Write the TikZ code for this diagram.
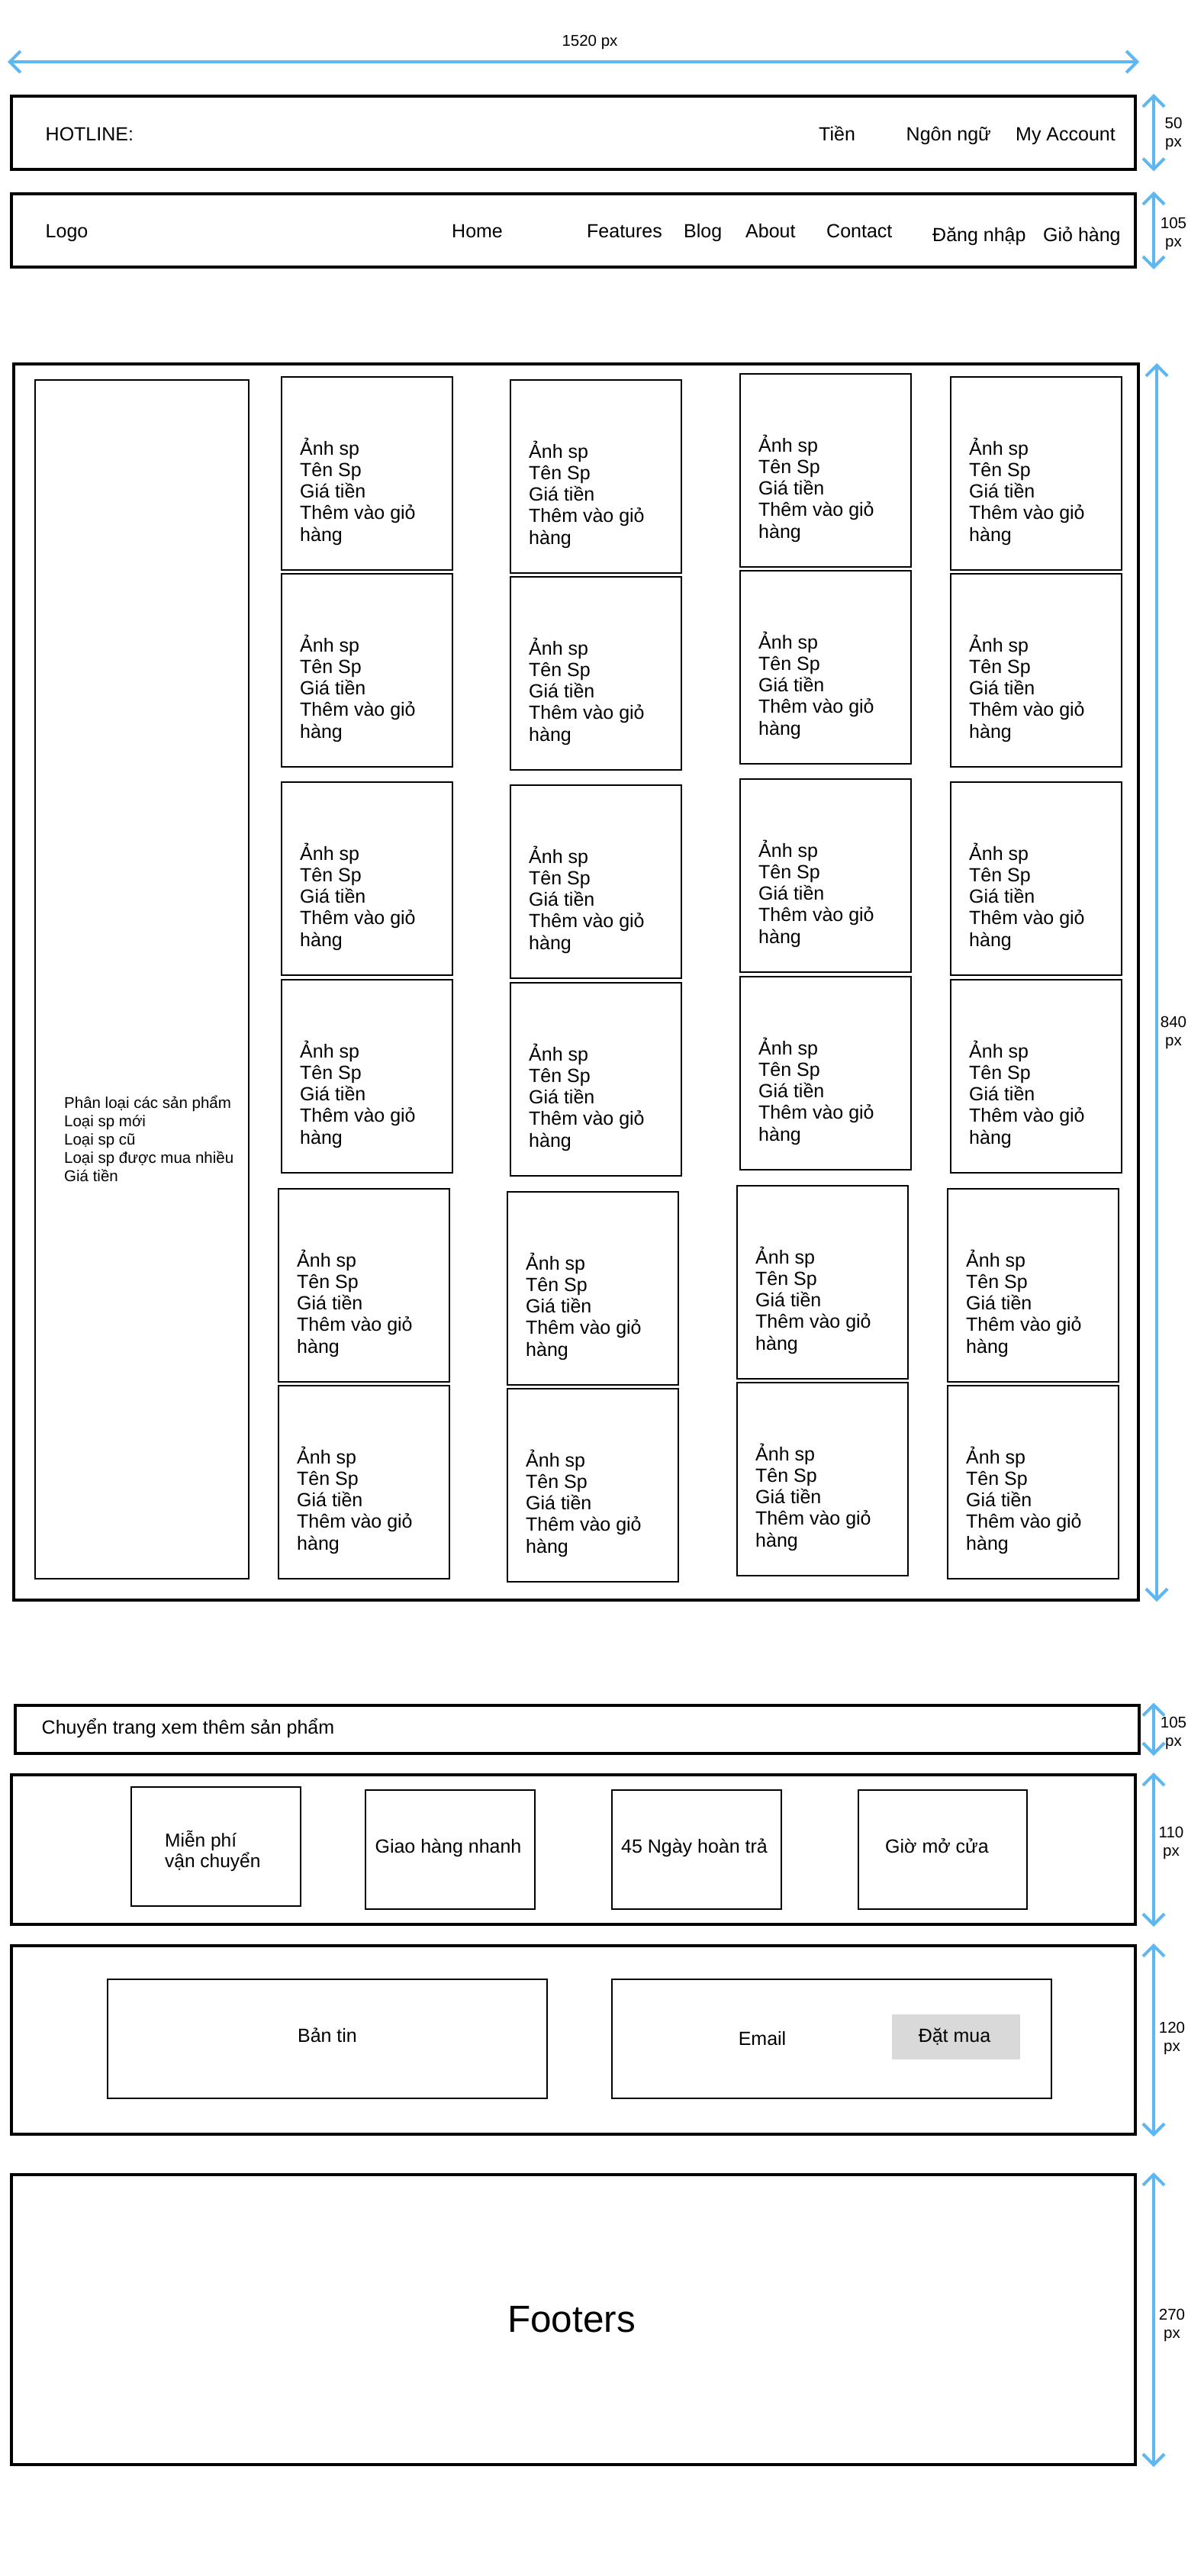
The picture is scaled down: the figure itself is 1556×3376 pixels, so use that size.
\documentclass[tikz,border=0pt]{standalone}
\usepackage{fontspec}
\setmainfont{Liberation Sans}
\usetikzlibrary{arrows.meta}
\definecolor{dimblue}{RGB}{94,183,241}
\definecolor{btngray}{RGB}{217,217,217}

\begin{document}
\begin{tikzpicture}[x=1pt,y=-1pt,
  frame/.style={draw,line width=4pt,inner sep=0pt,outer sep=0pt,anchor=north west},
  cell/.style={draw,line width=2pt,inner sep=0pt,outer sep=0pt,anchor=north west},
  card/.style={cell,minimum width=224pt,minimum height=253pt},
  lbl/.style={inner sep=0pt,anchor=base west,font=\fontsize{25}{29}\selectfont},
  clbl/.style={lbl,anchor=base},
  cardtxt/.style={inner sep=0pt,anchor=base west,align=left,font=\fontsize{25}{28.25}\selectfont},
  dim/.style={draw=dimblue,line width=4pt,{Straight Barb[length=14pt,width=28pt]}-{Straight Barb[length=14pt,width=28pt]}},
  dimlbl/.style={inner sep=0pt,anchor=base,align=center,font=\fontsize{20.5}{24}\selectfont}]
\useasboundingbox (0,0) rectangle (1556,3376);
% page width
  \coordinate (wl) at (10,81);
  \coordinate (wr) at (1493,81);
  \draw[dim] (wl) -- (wr);
  \node[dimlbl] (wlbl) at (773,60) {1520 px};
% header bars
  \node[frame,minimum width=1473pt,minimum height=95.5pt] (hot) at (15,126) {};
  \node[lbl] (hotline) at (59.5,184) {HOTLINE:};
  \node[lbl] (tien) at (1073,184) {Tiền};
  \node[lbl] (lang) at (1187.5,184) {Ngôn ngữ};
  \node[lbl] (acct) at (1331,184) {My Account};
  \node[frame,minimum width=1473pt,minimum height=96pt] (nav) at (15,254) {};
  \node[lbl] (logo) at (59.5,311.5) {Logo};
  \node[lbl] (home) at (592,311.5) {Home};
  \node[lbl] (feat) at (769,311.5) {Features};
  \node[lbl] (blog) at (896,311.5) {Blog};
  \node[lbl] (about) at (977,311.5) {About};
  \node[lbl] (contact) at (1083,311.5) {Contact};
  \node[lbl] (login) at (1222,316) {Đăng nhập};
  \node[lbl] (cart) at (1367,316) {Giỏ hàng};
% product area (base of a text block = its last line)
  \node[frame,minimum width=1474pt,minimum height=1620pt] (main) at (18,477) {};
  \node[cell,minimum width=280pt,minimum height=1571pt] (side) at (46,498) {};
  \node[inner sep=0pt,anchor=base west,align=left,font=\fontsize{20.5}{24}\selectfont] (sidetxt) at (84,1548)
    {Phân loại các sản phẩm\\Loại sp mới\\Loại sp cũ\\Loại sp được mua nhiều\\Giá tiền};
  \foreach \r/\ry/\dx in {1/494/0,2/752/0,3/1025/0,4/1284/0,5/1558/-4,6/1816/-4}
    \foreach \c/\cx/\dy in {1/369/0,2/669/4,3/970/-4,4/1246/0} {
      \node[card] (card-\r-\c) at (\cx+\dx,\ry+\dy) {};
      \node[cardtxt] (txt-\r-\c) at ([shift={(24,215)}]card-\r-\c.north west)
        {Ảnh sp\\Tên Sp\\Giá tiền\\Thêm vào giỏ\\hàng};
    }
% lower sections
  \node[frame,minimum width=1473.5pt,minimum height=63.5pt] (more) at (19.5,2234.5) {};
  \node[lbl] (moretxt) at (54.5,2272) {Chuyển trang xem thêm sản phẩm};
  \node[frame,minimum width=1473pt,minimum height=196pt] (perks) at (15,2326) {};
  \node[cell,minimum width=222pt,minimum height=156pt] (ship) at (172,2342) {};
  \node[cell,minimum width=222pt,minimum height=156pt] (fast) at (479,2346) {};
  \node[cell,minimum width=222pt,minimum height=156pt] (ret) at (802,2346) {};
  \node[cell,minimum width=221pt,minimum height=156pt] (hours) at (1125,2346) {};
  \node[inner sep=0pt,anchor=base west,align=left,font=\fontsize{24.5}{27.5}\selectfont] (shiptxt) at (216,2447.5)
    {Miễn phí\\vận chuyển};
  \node[clbl] (fasttxt) at (587.5,2428) {Giao hàng nhanh};
  \node[clbl] (rettxt) at (910,2428) {45 Ngày hoàn trả};
  \node[clbl] (hourstxt) at (1228,2428) {Giờ mở cửa};
  \node[frame,minimum width=1473pt,minimum height=247pt] (news) at (15,2550) {};
  \node[cell,minimum width=576pt,minimum height=156pt] (newsbox) at (141,2594) {};
  \node[cell,minimum width=576pt,minimum height=156pt] (mailbox) at (802,2594) {};
  \node[clbl] (newstxt) at (429,2676) {Bản tin};
  \node[clbl] (mailtxt) at (999,2680) {Email};
  \node[fill=btngray,inner sep=0pt,outer sep=0pt,anchor=north west,minimum width=168pt,minimum height=59pt] (btn) at (1169,2640) {};
  \node[clbl] (btntxt) at (1251,2676) {Đặt mua};
  \node[frame,minimum width=1473pt,minimum height=380pt] (foot) at (15,2850) {};
  \node[inner sep=0pt,anchor=base,font=\fontsize{49.5}{59}\selectfont] (foottxt) at (749,3056) {Footers};
% height marks
  \coordinate (dimx) at (1512,0);
  \coordinate (dimxm) at (1516,0);
  \draw[dim,shorten <=-3pt,shorten >=-3pt] (hot.north -| dimx) -- (hot.south -| dimx);
  \node[dimlbl] (hotdim) at (1538,192) {50\\px};
  \draw[dim,shorten <=-3pt,shorten >=-3pt] (nav.north -| dimx) -- (nav.south -| dimx);
  \node[dimlbl] (navdim) at (1538,323) {105\\px};
  \draw[dim,shorten <=-1pt,shorten >=-2pt] (main.north -| dimxm) -- (main.south -| dimxm);
  \node[dimlbl] (maindim) at (1538,1370) {840\\px};
  \draw[dim,shorten <=-3pt,shorten >=-3pt] (more.north -| dimx) -- (more.south -| dimx);
  \node[dimlbl] (moredim) at (1538,2288) {105\\px};
  \draw[dim,shorten <=-3pt,shorten >=-3pt] (perks.north -| dimx) -- (perks.south -| dimx);
  \node[dimlbl] (perksdim) at (1535,2432) {110\\px};
  \draw[dim,shorten <=-3pt,shorten >=-3pt] (news.north -| dimx) -- (news.south -| dimx);
  \node[dimlbl] (newsdim) at (1536,2688) {120\\px};
  \draw[dim,shorten <=-3pt,shorten >=-3pt] (foot.north -| dimx) -- (foot.south -| dimx);
  \node[dimlbl] (footdim) at (1536,3064) {270\\px};
\end{tikzpicture}
\end{document}
